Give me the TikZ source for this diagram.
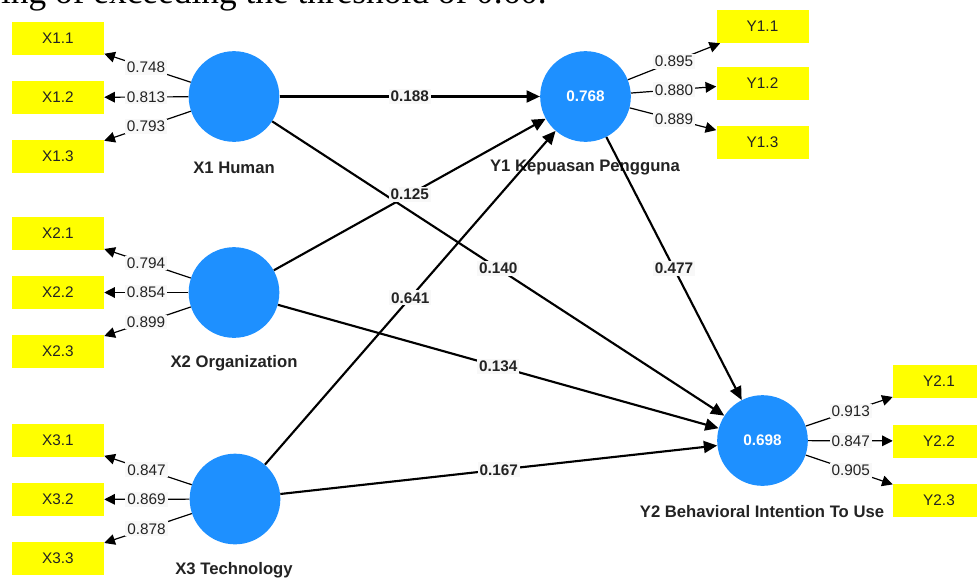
\documentclass[tikz,border=0pt]{standalone}
\usepackage{fontspec}
\setmainfont{Liberation Sans}
\newfontfamily\serifcap{Liberation Serif}
\usetikzlibrary{arrows.meta,calc}
\definecolor{lvblue}{RGB}{30,144,255}
\definecolor{mvyellow}{RGB}{255,255,0}
\definecolor{lblbg}{RGB}{248,248,248}
\definecolor{txtdark}{RGB}{35,35,35}
\begin{document}
\begin{tikzpicture}[x=0.75pt,y=-0.75pt,
 latent/.style={circle,fill=lvblue,minimum size=68pt,inner sep=0pt,text=white,font=\bfseries\fontsize{11.5}{13}\selectfont},
 indicator/.style={rectangle,fill=mvyellow,minimum width=69pt,minimum height=24.75pt,inner sep=0pt,text=txtdark,font=\fontsize{11.5}{13}\selectfont},
 loadline/.style={line width=0.9pt,-{Triangle[length=8pt,width=8pt]}},
 pathline/.style={line width=1.6pt,-{Triangle[length=10pt,width=9pt]}},
 loadlbl/.style={fill=lblbg,inner sep=1.5pt,text=txtdark,font=\fontsize{11.5}{13}\selectfont},
 pathlbl/.style={fill=lblbg,inner sep=1.5pt,text=txtdark,font=\bfseries\fontsize{11.5}{13}\selectfont},
 lvname/.style={text=txtdark,font=\bfseries\fontsize{12.5}{14}\selectfont}]
\useasboundingbox (0,0) rectangle (977,579);
\clip (0,0) rectangle (977,579);
\fill[white] (0,0) rectangle (977,579);

% cut-off caption text at the top (only its lower part is in the frame)
\node[anchor=base east,inner sep=0pt,font=\serifcap\fontsize{26.5}{30}\selectfont] (cap) at (547,3) {ing of exceeding the threshold of 0.60.};

% latent variables
\node[latent] (X1) at (234,96.5) {};
\node[latent] (X2) at (234,292.5) {};
\node[latent] (X3) at (235,499) {};
\node[latent] (Y1) at (585.5,96.5) {0.768};
\node[latent] (Y2) at (762.5,440.5) {0.698};

% names
\node[lvname] (nX1) at (234,168) {X1 Human};
\node[lvname] (nX2) at (234,363) {X2 Organization};
\node[lvname] (nX3) at (234,570) {X3 Technology};
\node[lvname] (nY1) at (585,168) {Y1 Kepuasan Pengguna};
\node[lvname] (nY2) at (762,512) {Y2 Behavioral Intention To Use};

% indicators
\node[indicator] (x11) at (58,38.5) {X1.1};
\node[indicator] (x12) at (58,97.5) {X1.2};
\node[indicator] (x13) at (58,156.5) {X1.3};
\node[indicator] (x21) at (58,233.5) {X2.1};
\node[indicator] (x22) at (58,292.5) {X2.2};
\node[indicator] (x23) at (58,351.5) {X2.3};
\node[indicator] (x31) at (58,440.5) {X3.1};
\node[indicator] (x32) at (58,499.5) {X3.2};
\node[indicator] (x33) at (58,558.5) {X3.3};
\node[indicator] (y11) at (762.5,26.5) {Y1.1};
\node[indicator] (y12) at (762.5,83) {Y1.2};
\node[indicator] (y13) at (762.5,142) {Y1.3};
\node[indicator] (y21) at (939,381.5) {Y2.1};
\node[indicator] (y22) at (939,441) {Y2.2};
\node[indicator] (y23) at (939,500) {Y2.3};

% outer loadings
\foreach \lv/\mv/\val in {X1/x11/0.748,X1/x12/0.813,X1/x13/0.793,
                          X2/x21/0.794,X2/x22/0.854,X2/x23/0.899,
                          X3/x31/0.847,X3/x32/0.869,X3/x33/0.878,
                          Y1/y11/0.895,Y1/y12/0.880,Y1/y13/0.889,
                          Y2/y21/0.913,Y2/y22/0.847,Y2/y23/0.905}{
  \draw[loadline] (\lv) -- (\mv);
  \node[loadlbl] at ($(\lv)!0.5!(\mv)$) {\val};
}

% structural paths
\foreach \a/\b in {X1/Y1,X1/Y2,X2/Y1,X2/Y2,X3/Y1,X3/Y2,Y1/Y2}{
  \draw[pathline] (\a) -- (\b);
}
\foreach \a/\b/\val in {X1/Y1/0.188,X1/Y2/0.140,X2/Y1/0.125,X2/Y2/0.134,
                        X3/Y1/0.641,X3/Y2/0.167,Y1/Y2/0.477}{
  \node[pathlbl] at ($(\a)!0.5!(\b)$) {\val};
}
\end{tikzpicture}
\end{document}
